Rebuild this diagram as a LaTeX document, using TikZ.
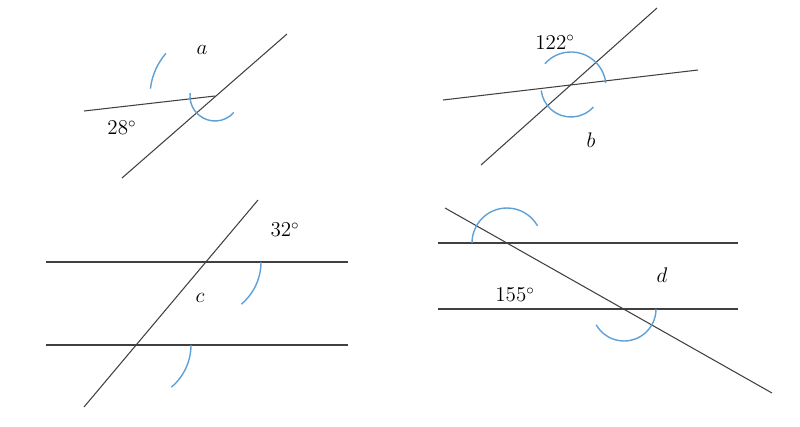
\documentclass[tikz,border=0pt]{standalone}
\usepackage{tikz}
\usetikzlibrary{calc}
\definecolor{arcblue}{RGB}{95,160,215}
\tikzset{
  ln/.style={draw=black!75, line width=0.6pt},
  ang/.style={draw=arcblue, line width=0.8pt},
  lbl/.style={font=\large}
}
\begin{document}
\begin{tikzpicture}[x=0.02cm, y=-0.02cm]
    \useasboundingbox (0,0) rectangle (800,426);

    % top left
    \coordinate (p1) at (122,178);
    \coordinate (q1) at (287,34);
    \coordinate (r1) at (84,111);
    \coordinate (o1) at (215,96);
    \draw[ln] (p1) -- (q1);
    \draw[ln] (r1) -- (o1);
    \draw[ang] ($(o1)+(41:25)$) arc[start angle=41, end angle=186.5, radius=25];
    \draw[ang] ($(o1)+(186.5:65)$) arc[start angle=186.5, end angle=221, radius=65];
    \node[lbl] (a) at (202,50) {$a$};
    \node[lbl] (t28) at (122,128) {28$^\circ$};

    % top right
    \coordinate (p2) at (481,165);
    \coordinate (q2) at (657,8);
    \coordinate (r2) at (443,100);
    \coordinate (s2) at (698,70);
    \coordinate (o2) at (571,87);
    \draw[ln] (p2) -- (q2);
    \draw[ln] (r2) -- (s2);
    \draw[ang] ($(o2)+(41.7:30)$) arc[start angle=41.7, end angle=173.3, radius=30];
    \draw[ang] ($(o2)+(221.7:35)$) arc[start angle=221.7, end angle=353.3, radius=35];
    \node[lbl] (t122) at (555,42) {122$^\circ$};
    \node[lbl] (b) at (591,140) {$b$};

    % bottom left
    \coordinate (h1a) at (46,262);
    \coordinate (h1b) at (348,262);
    \coordinate (h2a) at (46,345);
    \coordinate (h2b) at (348,345);
    \coordinate (p3) at (84,407);
    \coordinate (q3) at (258,200);
    \coordinate (o3) at (206,262);
    \coordinate (o4) at (136,345);
    \draw[ln] (h1a) -- (h1b);
    \draw[ln] (h2a) -- (h2b);
    \draw[ln] (p3) -- (q3);
    \draw[ang] ($(o3)+(0:55)$) arc[start angle=0, end angle=50, radius=55];
    \draw[ang] ($(o4)+(0:55)$) arc[start angle=0, end angle=50, radius=55];
    \node[lbl] (t32) at (285,230) {32$^\circ$};
    \node[lbl] (c) at (200,298) {$c$};

    % bottom right
    \coordinate (h3a) at (438,243);
    \coordinate (h3b) at (738,243);
    \coordinate (h4a) at (438,309);
    \coordinate (h4b) at (738,309);
    \coordinate (p4) at (445,208);
    \coordinate (q4) at (772,393);
    \coordinate (o5) at (507,243);
    \coordinate (o6) at (624,309);
    \draw[ln] (h3a) -- (h3b);
    \draw[ln] (h4a) -- (h4b);
    \draw[ln] (p4) -- (q4);
    \draw[ang] ($(o5)+(180:35)$) arc[start angle=180, end angle=330.5, radius=35];
    \draw[ang] ($(o6)+(0:32)$) arc[start angle=0, end angle=150.5, radius=32];
    \node[lbl] (t155) at (515,295) {155$^\circ$};
    \node[lbl] (d) at (662,275) {$d$};
\end{tikzpicture}
\end{document}
